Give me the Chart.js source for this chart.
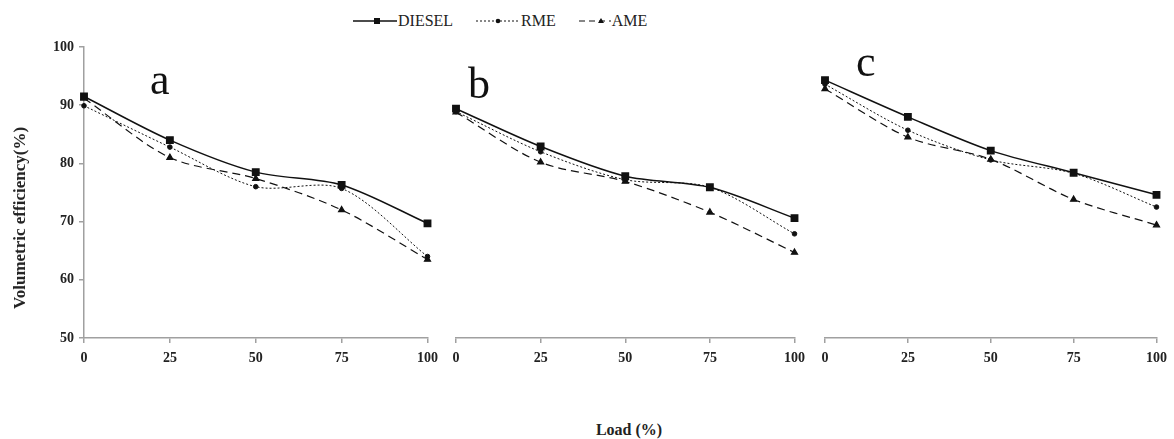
<!DOCTYPE html>
<html>
<head>
<meta charset="utf-8">
<script src="https://cdn.jsdelivr.net/npm/chart.js@4/dist/chart.umd.min.js"></script>
<style>
	body { margin: 0; background: #fff; width: 1174px; height: 439px; position: relative; overflow: hidden; font-family: "Liberation Serif", serif; }
	.panel { position: absolute; top: 0; height: 390px; }
	.letter { position: absolute; font-size: 44px; color: #111; line-height: 1; }
	#legend { position: absolute; top: 11px; left: 352px; font-size: 16px; color: #222; white-space: nowrap; }
	#legend span { display: inline-block; vertical-align: middle; }
	#legend svg { vertical-align: middle; }
	#yTitle { position: absolute; left: 20px; top: 218px; transform: translate(-50%, -50%) rotate(-90deg); font-weight: bold; font-size: 17px; color: #222; white-space: nowrap; }
	#xTitle { position: absolute; left: 629px; top: 430px; transform: translate(-50%, -50%); font-weight: bold; font-size: 16px; color: #222; white-space: nowrap; }
</style>
</head>
<body>

<div id="legend">
	<svg width="46" height="12"><line x1="1" y1="6" x2="45" y2="6" stroke="#111" stroke-width="1.5"/><rect x="22" y="3" width="6" height="6" fill="#111"/></svg><span style="margin-right:18px">DIESEL</span>
	<svg width="46" height="12"><line x1="1" y1="6" x2="45" y2="6" stroke="#111" stroke-width="1" stroke-dasharray="2,2"/><circle cx="23" cy="6" r="2.3" fill="#111"/></svg><span style="margin-right:18px">RME</span>
	<svg width="34" height="12"><line x1="1" y1="6" x2="33" y2="6" stroke="#111" stroke-width="1.2" stroke-dasharray="6,4"/><polygon points="23,3 26,8 20,8" fill="#111"/></svg><span>AME</span>
</div>

<div class="panel" style="left:0; width:445px;"><canvas id="panelA"></canvas></div>
<div class="panel" style="left:445px; width:367px;"><canvas id="panelB"></canvas></div>
<div class="panel" style="left:812px; width:362px;"><canvas id="panelC"></canvas></div>

<div class="letter" style="left:150px; top:58px;">a</div>
<div class="letter" style="left:468px; top:62px;">b</div>
<div class="letter" style="left:856px; top:40px;">c</div>

<div id="yTitle">Volumetric efficiency(%)</div>
<div id="xTitle">Load (%)</div>

<script>
// engine load, %
const loads = ["0", "25", "50", "75", "100"];

// volumetric efficiency (%) per fuel, panel a
const dieselA = [91.5, 84.0, 78.5, 76.3, 69.7];
const rmeA = [89.9, 82.8, 76.0, 75.7, 64.0];
const ameA = [91.2, 81.0, 77.4, 72.0, 63.5];

// panel b
const dieselB = [89.4, 82.9, 77.8, 75.9, 70.6];
const rmeB = [88.9, 82.0, 77.2, 75.9, 67.9];
const ameB = [88.8, 80.2, 76.9, 71.6, 64.7];

// panel c
const dieselC = [94.3, 88.0, 82.2, 78.4, 74.6];
const rmeC = [93.6, 85.7, 80.6, 78.3, 72.5];
const ameC = [92.8, 84.5, 80.7, 73.8, 69.4];

const yMin = 50;
const yMax = 100;
const yStep = 10;

const ink = "#111";
const axisGrey = "#a0a0a0";
const tickFont = { family: "Liberation Serif", size: 14, weight: "bold" };

function makePanel(id, diesel, rme, ame, showY, padLeft, padRight) {
	const yAxis = {
		display: showY,
		min: yMin,
		max: yMax,
		border: { display: true, color: axisGrey, width: 1.5 },
		grid: { display: true, drawOnChartArea: false, drawTicks: true, tickLength: 5, color: axisGrey, lineWidth: 1.5 },
		ticks: { stepSize: yStep, color: "#222", font: tickFont, padding: 5 },
	};
	// only the first panel carries the value axis
	if (showY) {
		yAxis.afterFit = (scale) => { scale.width = 84; };
	}

	return new Chart(document.getElementById(id), {
		type: "line",
		data: {
			labels: loads,
			datasets: [
				{
					label: "DIESEL",
					data: diesel,
					borderColor: ink,
					backgroundColor: ink,
					borderWidth: 1.5,
					pointStyle: "rect",
					pointRadius: 4.5,
					tension: 0.3,
					clip: false,
				},
				{
					label: "RME",
					data: rme,
					borderColor: ink,
					backgroundColor: ink,
					borderWidth: 1,
					borderDash: [2, 2],
					pointStyle: "circle",
					pointRadius: 2.3,
					tension: 0.3,
					clip: false,
				},
				{
					label: "AME",
					data: ame,
					borderColor: ink,
					backgroundColor: ink,
					borderWidth: 1.2,
					borderDash: [8, 5],
					pointStyle: "triangle",
					pointRadius: 3.5,
					tension: 0.3,
					clip: false,
				},
			],
		},
		options: {
			responsive: true,
			maintainAspectRatio: false,
			animation: false,
			layout: { padding: { top: 47, left: padLeft, right: padRight, bottom: 0 } },
			plugins: { legend: { display: false }, tooltip: { enabled: false } },
			scales: {
				x: {
					offset: false,
					border: { display: true, color: axisGrey, width: 1.5 },
					grid: { display: true, drawOnChartArea: false, drawTicks: true, tickLength: 5, color: axisGrey, lineWidth: 1.5 },
					ticks: { color: "#222", font: tickFont, padding: 7, maxRotation: 0 },
					afterFit(scale) { scale.height = 52; },
				},
				y: yAxis,
			},
		},
	});
}

const chartA = makePanel("panelA", dieselA, rmeA, ameA, true, 0, 15);
const chartB = makePanel("panelB", dieselB, rmeB, ameB, false, 11, 15);
const chartC = makePanel("panelC", dieselC, rmeC, ameC, false, 13, 16);
</script>
</body>
</html>
